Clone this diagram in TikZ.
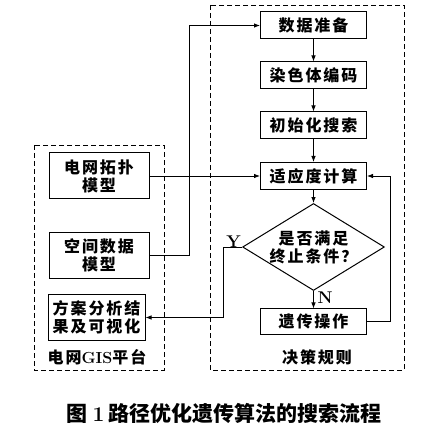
\documentclass[tikz,border=0pt]{standalone}
\usepackage{fontspec}
\newfontfamily\cjk{Noto Sans CJK SC}[LetterSpace=12]
\newfontfamily\cjkcap{Noto Sans CJK SC}
\usetikzlibrary{arrows.meta, positioning, shapes.geometric}

\begin{document}
\begin{tikzpicture}[x=1pt, y=-1pt,
    font=\cjk\bfseries\fontsize{16}{18}\selectfont,
    box/.style={draw, line width=1pt, minimum width=106pt, minimum height=27pt, inner sep=0pt},
    lbox/.style={draw, line width=1pt, minimum width=100pt, minimum height=46pt, inner sep=0pt, align=center},
    cond/.style={draw, diamond, line width=1pt, aspect=1.63, minimum width=140pt, minimum height=86pt, inner sep=0pt, align=center},
    group/.style={line width=0.8pt, dash pattern=on 5pt off 3pt},
    arr/.style={line width=0.8pt, -{Latex[length=6pt, width=4.5pt]}}]
    \useasboundingbox (0,0) rectangle (447,430);
    \def\xM{313.5}
    % Containers
    \draw[group] (210,5) rectangle (404,370);
    \draw[group] (34,145) rectangle (164,370);
    % Decision rule column
    \node[box] (prep) at (\xM,25.5) {数据准备};
    \node[box] (code) at (\xM,75.5) {染色体编码};
    \node[box] (init) at (\xM,125.5) {初始化搜索};
    \node[box] (fit) at (\xM,176) {适应度计算};
    \node[cond] (stop) at (\xM,247) {是否满足\\终止条件？};
    \node[box, minimum height=25pt] (gen) at (\xM,321.5) {遗传操作};
    \node (rule) at (317,357) {决策规则};
    % GIS platform
    \node[lbox] (topo) at (99,176) {电网拓扑\\模型};
    \node[lbox] (space) at (99,255.5) {空间数据\\模型};
    \node[lbox, minimum width=97pt] (result) at (96.5,317.5) {方案分析结\\果及可视化};
    \node (gis) at (97,357) {电网{\rmfamily\bfseries GIS}平台};
    % Flow
    \draw[arr] (prep) -- (code);
    \draw[arr] (code) -- (init);
    \draw[arr] (init) -- (fit);
    \draw[arr] (fit) -- (stop);
    \draw[arr] (stop) -- (gen);
    \node[right=3pt of stop.south, anchor=north west, inner sep=1pt, font=\rmfamily\bfseries\fontsize{17}{18}\selectfont] (no) {N};
    \node[above left=-2pt and 0pt of stop.west, inner sep=1pt, font=\rmfamily\bfseries\fontsize{17}{18}\selectfont] (yes) {Y};
    \draw[arr] (stop.west) -- ++(-19,0) |- (result.east);
    \draw[arr] (gen.east) -- ++(23,0) |- (fit.east);
    \draw[arr] (topo.east) -- (fit.west);
    \draw[arr] (space.east) -- ++(40,0) |- (prep.west);
    % Caption
    \node[font=\cjkcap\bfseries\fontsize{21}{24}\selectfont] (cap) at (224,413) {图\ {\rmfamily\bfseries 1}\,路径优化遗传算法的搜索流程};
\end{tikzpicture}
\end{document}
